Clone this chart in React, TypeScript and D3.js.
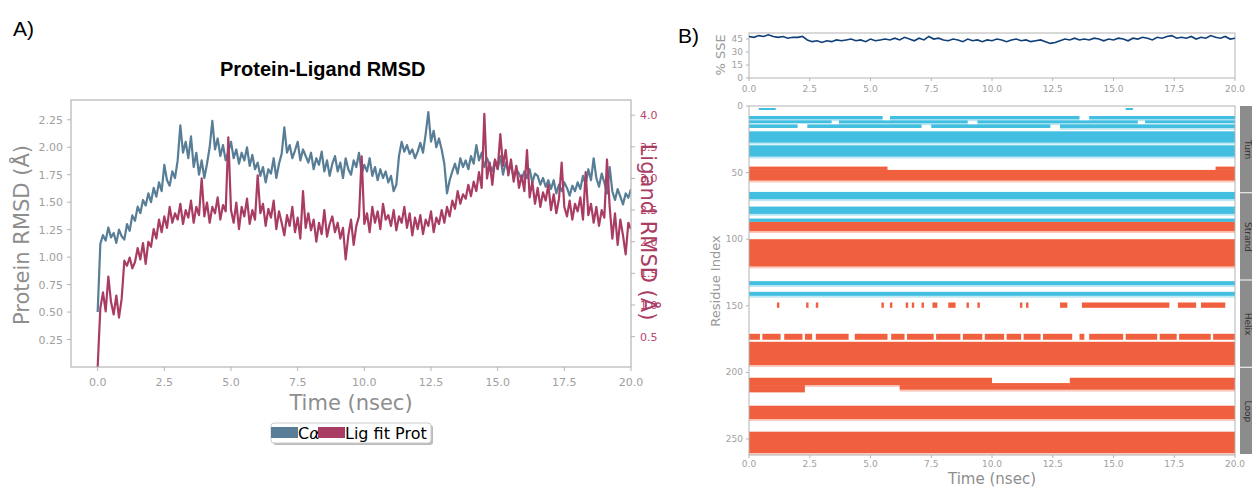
import React from "react";
import * as d3 from "d3";

const width = 1252;
const height = 488;

// ---- Panel A: Protein-Ligand RMSD (one value every 0.1 ns) ----
const rmsdStep = 0.1;
const caRmsd = [
  0.5, 1.12, 1.2, 1.15, 1.27, 1.18, 1.22, 1.13, 1.25, 1.19,
  1.16, 1.3, 1.24, 1.38, 1.33, 1.46, 1.4, 1.52, 1.47, 1.58,
  1.5, 1.63, 1.55, 1.68, 1.6, 1.84, 1.7, 1.65, 1.78, 1.72,
  1.88, 2.2, 1.95, 2.05, 1.9, 2.1, 1.82, 1.95, 1.75, 1.88,
  1.72, 1.85, 2.0, 2.24, 1.98, 2.08, 1.92, 2.02, 1.88, 1.96,
  2.05, 1.9, 1.98, 1.85, 1.95, 1.88, 2.0, 1.83, 1.93, 1.8,
  1.86, 1.74, 1.82, 1.68, 1.8, 1.76, 1.9, 1.72, 1.85, 1.94,
  2.18, 1.95, 2.02, 1.9, 1.97, 2.05, 1.88, 1.98, 1.92, 1.86,
  1.95, 1.8, 1.9, 1.84, 1.96, 1.78, 1.88, 1.74, 1.85, 1.92,
  1.78, 1.86, 1.72, 1.9, 1.8, 1.75, 1.88, 1.82, 1.95, 1.76,
  1.84, 1.78, 1.9, 1.74, 1.82, 1.7, 1.8, 1.72, 1.78, 1.68,
  1.74, 1.6, 1.66, 1.92, 2.05, 1.96, 2.02, 1.94, 1.98, 1.9,
  1.96, 2.04, 1.95, 2.12, 2.32, 2.05, 2.15, 2.0, 2.08, 1.98,
  1.85, 1.58, 1.7, 1.78, 1.85, 1.76, 1.9, 1.82, 1.88, 1.8,
  1.92, 1.85, 2.02, 1.88, 1.95, 1.82, 1.9, 1.84, 1.78, 1.88,
  1.8, 1.92, 1.75, 1.86, 1.78, 1.84, 1.72, 1.8, 1.76, 1.7,
  1.78, 1.72, 1.8, 1.68, 1.76, 1.74, 1.66, 1.72, 1.64, 1.7,
  1.62, 1.7, 1.58, 1.66, 1.6, 1.68, 1.63, 1.56, 1.65, 1.6,
  1.68, 1.62, 1.74, 1.66, 1.8, 1.7, 1.9, 1.72, 1.64, 1.76,
  1.68, 1.58, 1.82, 1.6, 1.52, 1.62, 1.55, 1.48, 1.58, 1.54,
  1.62,
];
const ligRmsd = [
  0.02, 0.95, 1.2, 0.9, 1.45, 1.05, 0.85, 1.15, 0.8, 1.1,
  1.7, 1.62, 1.75, 1.58, 1.68, 1.9, 1.72, 1.98, 1.65, 2.0,
  1.92, 2.2, 2.05, 2.35, 2.15, 2.4, 2.22, 2.55, 2.3, 2.45,
  2.35, 2.6, 2.28, 2.5, 2.38, 2.65, 2.3, 2.55, 2.42, 3.0,
  2.4, 2.62, 2.3, 2.55, 2.45, 2.7, 2.35, 2.58, 2.48, 3.65,
  2.5, 2.3, 2.62, 2.2, 2.55, 2.4, 2.68, 2.28, 2.5, 2.35,
  3.05, 2.45, 2.6, 2.25, 2.52, 2.38, 2.65, 2.2, 2.48, 2.3,
  2.1, 2.42, 2.25, 2.55, 2.15, 2.38, 2.05, 2.8, 2.22, 2.45,
  2.18, 2.35, 2.0, 2.3, 2.12, 2.5, 2.08, 2.28, 2.4, 2.15,
  2.3, 2.05, 2.22, 1.72, 2.1, 2.35, 1.95, 2.25, 2.4, 3.35,
  2.28, 2.45, 2.15, 2.55, 2.3, 2.48, 2.2, 2.6, 2.35, 2.42,
  2.25, 2.5, 2.18, 2.4, 2.3, 2.55, 2.22, 2.45, 2.1, 2.38,
  2.2, 2.42, 2.12, 2.35, 2.25, 2.48, 2.15, 2.38, 2.28, 2.5,
  2.3, 2.55, 2.4, 2.65, 2.52, 2.8, 2.6, 2.75, 2.68, 2.9,
  2.72, 2.95, 2.8, 3.1, 2.85, 4.02, 3.0, 3.25, 2.9, 3.3,
  3.15, 3.7, 3.2, 3.45, 3.05, 3.3, 2.95, 3.2, 2.85, 3.05,
  2.8, 3.45, 2.7, 2.95, 2.6, 2.85, 2.55, 2.78, 2.65, 2.9,
  2.5, 2.75, 2.45, 2.68, 3.25, 2.55, 2.4, 2.65, 2.35, 2.6,
  2.48, 2.7, 2.35, 3.1, 2.42, 2.6, 2.3, 2.55, 2.25, 2.5,
  2.38, 3.3, 2.55, 2.05, 2.45, 1.95, 2.35, 2.1, 1.8, 2.3,
  2.2,
];
const timeTicks = [0, 2.5, 5, 7.5, 10, 12.5, 15, 17.5, 20];
const proteinTicks = [0.25, 0.5, 0.75, 1.0, 1.25, 1.5, 1.75, 2.0, 2.25];
const ligandTicks = [0.5, 1.0, 1.5, 2.0, 2.5, 3.0, 3.5, 4.0];
const legendLabels = ["Cα", "Lig fit Prot"];

// ---- Panel B: secondary structure (SSE % every 0.2 ns) ----
const sseStep = 0.2;
const ssePercent = [
  48, 47, 49, 48, 50, 48, 47, 48, 46, 47,
  47, 48, 44, 42, 43, 41, 43, 42, 44, 43,
  44, 45, 43, 44, 42, 45, 43, 44, 45, 44,
  46, 44, 47, 45, 43, 46, 44, 48, 45, 46,
  44, 43, 45, 44, 42, 45, 43, 44, 42, 44,
  43, 45, 44, 42, 44, 45, 43, 44, 42, 43,
  44, 42, 40, 41, 43, 45, 44, 46, 44, 45,
  44, 46, 45, 43, 45, 44, 46, 45, 43, 46,
  45, 47, 46, 44, 47, 46, 48, 49, 46, 47,
  46, 48, 45, 47, 46, 49, 47, 46, 48, 45,
  46,
];
const sseTicks = [0, 15, 30, 45];
const residueTicks = [0, 50, 100, 150, 200, 250];
// [residue from, residue to, time from, time to]
const strandSegments = [
  [1.5, 3, 0.4, 1.1], [1.5, 3, 15.5, 15.8],
  [7.5, 10, 0, 5.5], [7.5, 10, 5.8, 13.6], [7.5, 10, 14.0, 20],
  [10.8, 13, 0, 3.4], [10.8, 13, 3.7, 9.0], [10.8, 13, 9.4, 16.0], [10.8, 13, 16.3, 20],
  [13.8, 16.5, 0, 2.0], [13.8, 16.5, 2.4, 7.1], [13.8, 16.5, 7.5, 12.4], [13.8, 16.5, 12.8, 20],
  [19, 27.5, 0, 20],
  [29.5, 38, 0, 20],
  [64.5, 70, 0, 20],
  [75.5, 81, 0, 20],
  [84.5, 87, 0, 20],
  [131.5, 134.5, 0, 20],
  [139.5, 142.5, 0, 20],
];
const helixSegments = [
  [45.5, 48, 0, 5.7], [48, 56, 0, 20], [45.5, 48, 19.2, 20],
  [87, 94, 0, 20],
  [100, 120.5, 0, 20],
  [147.5, 151.5, 1.15, 1.25], [147.5, 151.5, 2.35, 2.45], [147.5, 151.5, 2.75, 2.85],
  [147.5, 151.5, 5.45, 5.55], [147.5, 151.5, 5.8, 5.9], [147.5, 151.5, 6.45, 6.55],
  [147.5, 151.5, 6.7, 6.8], [147.5, 151.5, 7.1, 7.2], [147.5, 151.5, 7.55, 7.75],
  [147.5, 151.5, 8.2, 8.5], [147.5, 151.5, 8.95, 9.05], [147.5, 151.5, 9.4, 9.5],
  [147.5, 151.5, 11.15, 11.25], [147.5, 151.5, 11.4, 11.5], [147.5, 151.5, 12.8, 13.1],
  [147.5, 151.5, 13.7, 17.3], [147.5, 151.5, 17.65, 18.4], [147.5, 151.5, 18.6, 19.6],
  [171, 175.5, 0, 0.45], [171, 175.5, 0.55, 1.3], [171, 175.5, 1.45, 2.2],
  [171, 175.5, 2.3, 2.6], [171, 175.5, 2.75, 4.1], [171, 175.5, 4.35, 5.7],
  [171, 175.5, 5.85, 6.4], [171, 175.5, 6.5, 7.6], [171, 175.5, 7.7, 8.7],
  [171, 175.5, 8.8, 9.6], [171, 175.5, 9.7, 10.5], [171, 175.5, 10.6, 11.2],
  [171, 175.5, 11.3, 12.0], [171, 175.5, 12.1, 13.3], [171, 175.5, 13.6, 13.8],
  [171, 175.5, 14.0, 15.4], [171, 175.5, 15.5, 16.8], [171, 175.5, 16.9, 17.6],
  [171, 175.5, 17.7, 19.0], [171, 175.5, 19.1, 20],
  [177, 194.5, 0, 20],
  [204, 209.5, 0, 10], [209.5, 215, 0, 2.3], [209.5, 213, 6.2, 20],
  [208, 209.5, 10, 13.2], [204, 209.5, 13.2, 20],
  [225, 235, 0, 20],
  [244.5, 260.5, 0, 20],
];
const sideLabels = ["Turn", "Strand", "Helix", "Loop"];

const caColor = "#587d96";
const ligColor = "#a93c63";
const strandColor = "#41bee0";
const helixColor = "#f0603e";
const axisGray = "#b4b4b4";
const tickGray = "#a0a0a0";

function PanelA() {
  const x = d3.scaleLinear().domain([-1, 20]).range([71, 631]);
  const yL = d3.scaleLinear().domain([0, 2.43]).range([367, 100]);
  const yR = d3.scaleLinear().domain([0.02, 4.24]).range([367, 100]);
  const caLine = d3.line<number>().x((_, i) => x(i * rmsdStep)).y((d) => yL(d));
  const ligLine = d3.line<number>().x((_, i) => x(i * rmsdStep)).y((d) => yR(d));
  const [x0, x1] = x.range();
  const [yb, yt] = yL.range();

  return (
    <g>
      <text x={13} y={36} fontSize={21} fontFamily="Liberation Sans, Arial, sans-serif">A)</text>
      <text x={220} y={76} fontSize={20} fontWeight="bold" fontFamily="Liberation Sans, Arial, sans-serif">
        Protein-Ligand RMSD
      </text>
      <clipPath id="clipA">
        <rect x={x0} y={yt} width={x1 - x0} height={yb - yt} />
      </clipPath>
      <g clipPath="url(#clipA)">
        <path d={caLine(caRmsd) || ""} fill="none" stroke={caColor} strokeWidth={2.2} strokeLinejoin="round" />
        <path d={ligLine(ligRmsd) || ""} fill="none" stroke={ligColor} strokeWidth={2.2} strokeLinejoin="round" />
      </g>
      <rect x={x0} y={yt} width={x1 - x0} height={yb - yt} fill="none" stroke={axisGray} strokeWidth={1.2} />
      {proteinTicks.map((t) => (
        <g key={"l" + t}>
          <line x1={x0 - 4} x2={x0} y1={yL(t)} y2={yL(t)} stroke={axisGray} />
          <text x={x0 - 8} y={yL(t) + 4} textAnchor="end" fontSize={11} fill={tickGray}>
            {t.toFixed(2)}
          </text>
        </g>
      ))}
      {ligandTicks.map((t) => (
        <g key={"r" + t}>
          <line x1={x1} x2={x1 + 4} y1={yR(t)} y2={yR(t)} stroke={axisGray} />
          <text x={x1 + 9} y={yR(t) + 4} fontSize={11} fill="#b8476f">
            {t.toFixed(1)}
          </text>
        </g>
      ))}
      {timeTicks.map((t) => (
        <g key={"x" + t}>
          <line x1={x(t)} x2={x(t)} y1={yb} y2={yb + 4} stroke={axisGray} />
          <text x={x(t)} y={yb + 19} textAnchor="middle" fontSize={11} fill={tickGray}>
            {t.toFixed(1)}
          </text>
        </g>
      ))}
      <text x={351} y={410} textAnchor="middle" fontSize={21} fill="#8e8e8e">Time (nsec)</text>
      <text transform="translate(29,235) rotate(-90)" textAnchor="middle" fontSize={21} fill="#8e8e8e">
        Protein RMSD (Å)
      </text>
      <text transform="translate(641,232) rotate(90)" textAnchor="middle" fontSize={21} fill={ligColor}>
        Ligand RMSD (Å)
      </text>
      <g>
        <rect x={273} y={425} width={160} height={20} rx={3} fill="#bbb" />
        <rect x={271} y={423} width={160} height={20} rx={3} fill="#fff" stroke="#ccc" />
        <rect x={271} y={427} width={27} height={11} fill={caColor} />
        <text x={298} y={439} fontSize={16} fill="#000">
          C<tspan fontStyle="italic">α</tspan>
        </text>
        <rect x={318} y={427} width={27} height={11} fill={ligColor} />
        <text x={345} y={439} fontSize={16} fill="#000">{legendLabels[1]}</text>
      </g>
    </g>
  );
}

function PanelB() {
  const x = d3.scaleLinear().domain([0, 20]).range([749, 1235]);
  const ySse = d3.scaleLinear().domain([0, 52]).range([78, 33]);
  const yRes = d3.scaleLinear().domain([0, 262]).range([106, 455]);
  const sseLine = d3.line<number>().x((_, i) => x(i * sseStep)).y((d) => ySse(d));
  const [x0, x1] = x.range();
  const [s0, s1] = ySse.range();
  const [r0, r1] = yRes.range();
  const stripH = (r1 - r0) / sideLabels.length;

  const drawSegs = (segs: number[][], color: string, key: string) =>
    segs.map((s, i) => {
      const long = s[3] - s[2] > 5;
      return (
        <g key={key + i}>
          <rect x={x(s[2])} y={yRes(s[0])} width={x(s[3]) - x(s[2])} height={yRes(s[1]) - yRes(s[0])} fill={color} />
          {long && (
            <rect x={x(s[2])} y={yRes(s[1])} width={x(s[3]) - x(s[2])} height={yRes(1.4) - yRes(0)} fill={color} opacity={0.35} />
          )}
        </g>
      );
    });

  return (
    <g>
      <text x={678} y={43} fontSize={21} fontFamily="Liberation Sans, Arial, sans-serif">B)</text>
      {/* SSE % over time */}
      <rect x={x0} y={s1} width={x1 - x0} height={s0 - s1} fill="none" stroke={axisGray} />
      <path d={sseLine(ssePercent) || ""} fill="none" stroke="#0e3f78" strokeWidth={1.6} />
      {sseTicks.map((t) => (
        <g key={"s" + t}>
          <line x1={x0 - 3} x2={x0} y1={ySse(t)} y2={ySse(t)} stroke={axisGray} />
          <text x={x0 - 6} y={ySse(t) + 3} textAnchor="end" fontSize={9} fill={tickGray}>{t}</text>
        </g>
      ))}
      {timeTicks.map((t) => (
        <g key={"sx" + t}>
          <line x1={x(t)} x2={x(t)} y1={s0} y2={s0 + 3} stroke={axisGray} />
          <text x={x(t)} y={s0 + 14} textAnchor="middle" fontSize={9} fill={tickGray}>{t.toFixed(1)}</text>
        </g>
      ))}
      <text transform="translate(725,55) rotate(-90)" textAnchor="middle" fontSize={13} fill="#999">% SSE</text>

      {/* residue x time map */}
      <clipPath id="clipB">
        <rect x={x0} y={r0} width={x1 - x0} height={r1 - r0} />
      </clipPath>
      <g clipPath="url(#clipB)">
        {drawSegs(strandSegments, strandColor, "st")}
        {drawSegs(helixSegments, helixColor, "hx")}
      </g>
      <rect x={x0} y={r0} width={x1 - x0} height={r1 - r0} fill="none" stroke={axisGray} />
      {residueTicks.map((t) => (
        <g key={"r" + t}>
          <line x1={x0 - 3} x2={x0} y1={yRes(t)} y2={yRes(t)} stroke={axisGray} />
          <text x={x0 - 6} y={yRes(t) + 3} textAnchor="end" fontSize={9} fill={tickGray}>{t}</text>
        </g>
      ))}
      {timeTicks.map((t) => (
        <g key={"rx" + t}>
          <line x1={x(t)} x2={x(t)} y1={r1} y2={r1 + 3} stroke={axisGray} />
          <text x={x(t)} y={r1 + 12} textAnchor="middle" fontSize={9} fill={tickGray}>{t.toFixed(1)}</text>
        </g>
      ))}
      <text transform="translate(720,281) rotate(-90)" textAnchor="middle" fontSize={13} fill="#999">Residue Index</text>
      <text x={(x0 + x1) / 2} y={484} textAnchor="middle" fontSize={15} fill="#8e8e8e">Time (nsec)</text>
      {sideLabels.map((lab, i) => (
        <g key={lab}>
          <rect x={1240} y={r0 + i * stripH} width={20} height={stripH - 1} fill="#8c8c8c" />
          <text transform={`translate(1245,${r0 + (i + 0.5) * stripH}) rotate(90)`} textAnchor="middle" fontSize={9} fill="#333">
            {lab}
          </text>
        </g>
      ))}
    </g>
  );
}

export default function App() {
  return (
    <div style={{ position: "absolute", left: 0, top: 0 }}>
      <svg width={width} height={height} style={{ display: "block", fontFamily: "DejaVu Sans, sans-serif" }}>
        <rect width={width} height={height} fill="#fff" />
        <PanelA />
        <PanelB />
      </svg>
    </div>
  );
}
